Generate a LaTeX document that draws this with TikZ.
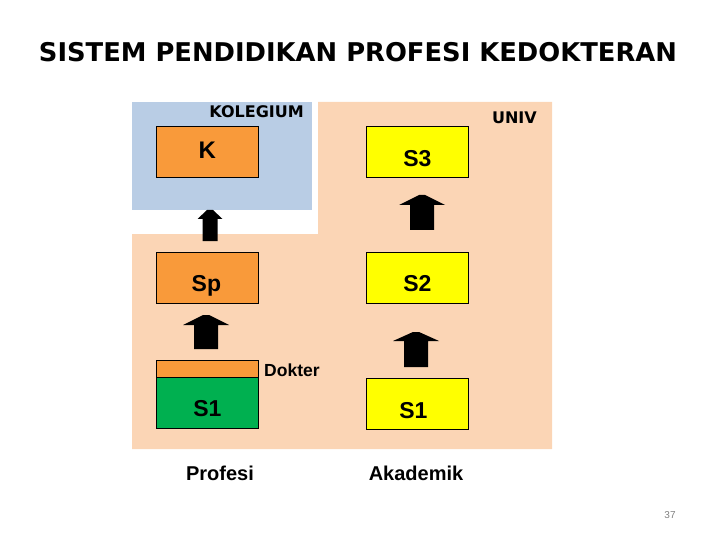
\documentclass[tikz,border=0pt]{standalone}
\usepackage{fontspec}
\setmainfont{Liberation Sans}
\newfontfamily\titlefont{DejaVu Sans}
\definecolor{kolblue}{HTML}{B9CDE5}
\definecolor{peach}{HTML}{FBD5B5}
\definecolor{boxorange}{HTML}{F99A3A}
\definecolor{boxgreen}{HTML}{00B050}
\definecolor{boxyellow}{HTML}{FFFF00}
\tikzset{
  lvlbox/.style={draw=black, line width=0.8pt, minimum width=102pt, minimum height=51pt, inner sep=0pt},
  boxtext/.style={inner sep=0pt, text height=16.5pt, text depth=0pt, font=\bfseries\fontsize{23}{23}\selectfont},
  regionlabel/.style={font=\titlefont\bfseries\fontsize{16}{16}\selectfont, inner sep=0pt},
  footlabel/.style={font=\bfseries\fontsize{20}{20}\selectfont, inner sep=0pt},
  blockarrow/.style={fill=black, draw=none}
}
% block arrow: #1 = centre x, #2 = top y, #3 = head base y, #4 = bottom y, #5 = head half width, #6 = shaft half width
\newcommand\blockarr[6]{%
  \fill[blockarrow] (#1-#6,#4) -- (#1-#6,#3) -- (#1-#5,#3) -- (#1-3,#2) -- (#1+3,#2) -- (#1+#5,#3) -- (#1+#6,#3) -- (#1+#6,#4) -- cycle;}
\begin{document}
\begin{tikzpicture}[x=1pt,y=-1pt]
\useasboundingbox (0,0) rectangle (720,540);
% title
\node[font=\titlefont\bfseries\fontsize{25.8}{26}\selectfont, inner sep=0pt] (title) at (358,52) {SISTEM PENDIDIKAN PROFESI KEDOKTERAN};
% regions
\fill[kolblue] (132,102) rectangle (312,210);
\fill[peach] (318,102) -- (552,102) -- (552,449) -- (132,449) -- (132,234) -- (318,234) -- cycle;
\node[regionlabel, anchor=east] (kol) at (304,112) {KOLEGIUM};
\node[regionlabel, anchor=east] (univ) at (537,118) {UNIV};
% boxes
\node[lvlbox, fill=boxorange, anchor=north west] (K) at (156,126) {};
\node[lvlbox, fill=boxyellow, anchor=north west] (S3) at (366,126) {};
\node[lvlbox, fill=boxorange, anchor=north west] (Sp) at (156,252) {};
\node[lvlbox, fill=boxyellow, anchor=north west] (S2) at (366,252) {};
\node[draw=black, line width=0.8pt, fill=boxorange, minimum width=102pt, minimum height=17pt, inner sep=0pt, anchor=north west] (dok) at (156,360) {};
\node[lvlbox, fill=boxgreen, anchor=north west] (S1p) at (156,377) {};
\node[lvlbox, fill=boxyellow, anchor=north west] (S1a) at (366,378) {};
% box texts
\node[boxtext, text height=17.2pt, font=\bfseries\fontsize{24}{24}\selectfont] (Kt) at ([yshift=1.5pt]K.center) {K};
\node[boxtext] (S3t) at ([yshift=-6.5pt]S3.center) {S3};
\node[boxtext] (Spt) at ([xshift=-1pt,yshift=-5.5pt]Sp.center) {Sp};
\node[boxtext] (S2t) at ([yshift=-5.5pt]S2.center) {S2};
\node[boxtext] (S1pt) at ([yshift=-5pt]S1p.center) {S1};
\node[boxtext] (S1at) at ([xshift=-4pt,yshift=-6.5pt]S1a.center) {S1};
\node[font=\bfseries\fontsize{17.5}{17.5}\selectfont, anchor=west, inner sep=0pt] (doklab) at (264,370) {Dokter};
% arrows
\blockarr{210}{210}{219}{241}{12.5}{7.5}
\blockarr{422}{195}{205}{230}{23}{12}
\blockarr{206}{315}{325}{349}{23}{12}
\blockarr{416}{332}{341}{367}{23}{12}
% footer labels
\node[footlabel] (prof) at (220,473) {Profesi};
\node[footlabel] (akad) at (416,473) {Akademik};
\node[font=\fontsize{10}{10}\selectfont, text=gray, inner sep=0pt] (pg) at (670,515) {37};
\end{tikzpicture}
\end{document}
